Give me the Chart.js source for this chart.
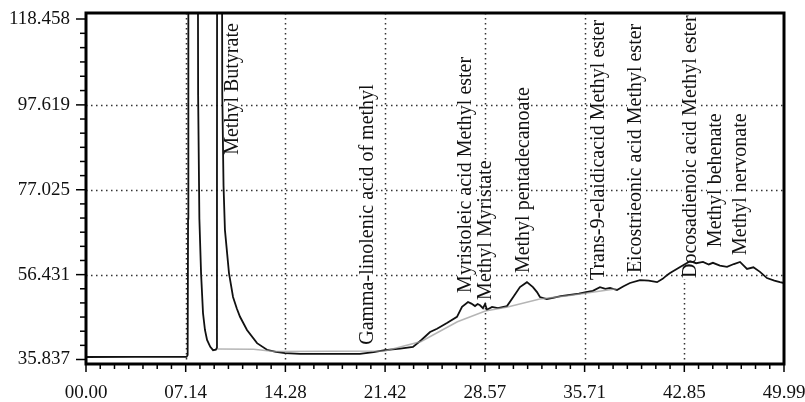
<!DOCTYPE html>
<html lang="en">
<head>
<meta charset="UTF-8">
<title>Chromatogram</title>
<script src="https://cdn.jsdelivr.net/npm/chart.js"></script>
<style>
    html, body { margin: 0; padding: 0; background: #fff; }
    .chart-container { position: relative; width: 805px; height: 402px; }
</style>
</head>
<body>
<div class="chart-container"><canvas id="chart"></canvas></div>
<script>
// retention time (min) and detector signal
const timeValues = [0.00, 3.50, 7.20, 7.28, 7.31, 7.33, 7.98, 8.03, 8.12, 8.24, 8.38, 8.52, 8.67, 8.90, 9.10, 9.30, 9.36, 9.38, 9.40, 9.70, 9.76, 9.85, 9.95, 10.24, 10.53, 10.80, 11.03, 11.53, 12.25, 12.96, 13.60, 14.25, 15.33, 17.50, 19.62, 20.60, 21.41, 22.50, 23.42, 24.00, 24.64, 25.14, 25.85, 26.57, 26.93, 27.36, 27.60, 27.86, 28.05, 28.22, 28.43, 28.58, 28.72, 29.08, 29.50, 30.15, 30.60, 31.08, 31.58, 32.01, 32.30, 32.51, 33.00, 33.45, 34.00, 34.66, 35.30, 35.81, 36.30, 36.81, 37.20, 37.53, 38.03, 38.50, 38.96, 39.68, 40.30, 40.90, 41.30, 41.61, 41.83, 42.55, 43.26, 43.70, 44.19, 44.60, 44.90, 45.40, 45.91, 46.40, 46.84, 47.34, 47.80, 48.27, 48.77, 49.30, 49.70, 49.99];
const signalValues = [36.44, 36.45, 36.45, 36.9, 70, 200, 200, 100, 70, 56.8, 47.1, 43.0, 40.6, 38.9, 38.1, 38.2, 38.6, 80, 200, 200, 100, 78, 67.3, 56.8, 51.0, 48.2, 46.2, 43.0, 39.8, 38.2, 37.7, 37.4, 37.2, 37.2, 37.2, 37.6, 38.1, 38.5, 38.9, 40.5, 42.5, 43.3, 44.7, 46.2, 48.6, 49.8, 49.4, 48.8, 49.3, 49.0, 48.3, 49.3, 47.9, 48.6, 48.3, 48.8, 51.0, 53.4, 54.6, 53.4, 52.2, 51.0, 50.5, 50.8, 51.2, 51.5, 51.8, 52.2, 52.5, 53.4, 53.0, 53.2, 52.7, 53.6, 54.4, 55.1, 55.0, 54.6, 55.4, 56.3, 56.8, 58.3, 59.7, 59.2, 59.5, 58.9, 59.3, 58.6, 58.3, 59.0, 59.5, 57.8, 58.2, 57.1, 55.6, 55.0, 54.6, 54.4];

// integration baseline (faint grey)
const baselineTime = [9.38, 12.0, 13.5, 21.4, 24.0, 26.6, 28.6, 30.2, 32.5, 34.5, 38.0];
const baselineSignal = [38.4, 38.3, 37.8, 37.9, 40.2, 45.0, 47.6, 48.6, 50.5, 51.3, 53.0];

const xTickValues = [0, 7.14, 14.28, 21.42, 28.57, 35.71, 42.85, 49.99];
const xTickLabels = ['00.00', '07.14', '14.28', '21.42', '28.57', '35.71', '42.85', '49.99'];
const yTickValues = [35.837, 56.431, 77.025, 97.619, 118.458];
const yTickLabels = ['35.837', '56.431', '77.025', '97.619', '118.458'];

// peak names, retention time and the signal level where the name starts
const peakNames = ['Methyl Butyrate', 'Gamma-linolenic acid of methyl', 'Myristoleic acid Methyl ester', 'Methyl Myristate', 'Methyl pentadecanoate', 'Trans-9-elaidicacid Methyl ester', 'Eicostrieonic acid Methyl ester', 'Docosadienoic acid Methyl ester', 'Methyl behenate', 'Methyl nervonate'];
const peakTimes = [10.46, 20.12, 27.14, 28.58, 31.30, 36.67, 39.32, 43.26, 45.05, 46.84];
const peakLabelBase = [85.5, 39.4, 52.0, 50.3, 56.8, 55.1, 56.8, 55.6, 63.1, 61.2];

const toPoints = (xs, ys) => xs.map((t, i) => ({ x: t, y: ys[i] }));

const frame = {
    id: 'frame',
    beforeDatasetsDraw(chart) {
        const { ctx, chartArea: a, scales: { x, y } } = chart;
        ctx.save();
        // dotted grid
        ctx.strokeStyle = '#333';
        ctx.lineWidth = 1.5;
        ctx.setLineDash([1.5, 3.5]);
        xTickValues.slice(1, -1).forEach(v => {
            const px = Math.round(x.getPixelForValue(v)) + 0.5;
            ctx.beginPath(); ctx.moveTo(px, a.top); ctx.lineTo(px, a.bottom); ctx.stroke();
        });
        yTickValues.slice(1, -1).forEach(v => {
            const py = Math.round(y.getPixelForValue(v)) + 0.5;
            ctx.beginPath(); ctx.moveTo(a.left, py); ctx.lineTo(a.right, py); ctx.stroke();
        });
        ctx.setLineDash([]);

        // peak names, vertical
        ctx.font = '20px "Liberation Serif"';
        ctx.textBaseline = 'middle';
        ctx.textAlign = 'left';
        peakNames.forEach((name, i) => {
            const px = x.getPixelForValue(peakTimes[i]);
            const py = y.getPixelForValue(peakLabelBase[i]);
            const w = ctx.measureText(name).width;
            ctx.save();
            ctx.translate(px, py);
            ctx.rotate(-Math.PI / 2);
            ctx.fillStyle = '#fff';
            ctx.fillRect(-1, -8, w + 2, 16);
            ctx.fillStyle = '#111';
            ctx.fillText(name, 0, 1);
            ctx.restore();
        });
        ctx.restore();
    },
    afterDatasetsDraw(chart) {
        const { ctx, chartArea: a, scales: { x, y } } = chart;
        ctx.save();
        ctx.strokeStyle = '#000';
        ctx.lineWidth = 1.5;
        // y ticks, 6 minor steps between labels
        for (let i = 0; i < yTickValues.length; i++) {
            const py = y.getPixelForValue(yTickValues[i]);
            ctx.beginPath(); ctx.moveTo(a.left - 10, py); ctx.lineTo(a.left, py); ctx.stroke();
            if (i < yTickValues.length - 1) {
                const step = (yTickValues[i + 1] - yTickValues[i]) / 6;
                for (let k = 1; k < 6; k++) {
                    const my = y.getPixelForValue(yTickValues[i] + k * step);
                    ctx.beginPath(); ctx.moveTo(a.left - 6, my); ctx.lineTo(a.left, my); ctx.stroke();
                }
            }
        }
        // x ticks, 7 minor steps between labels
        for (let i = 0; i < xTickValues.length; i++) {
            const px = x.getPixelForValue(xTickValues[i]);
            ctx.beginPath(); ctx.moveTo(px, a.bottom); ctx.lineTo(px, a.bottom + 8); ctx.stroke();
            if (i < xTickValues.length - 1) {
                const step = (xTickValues[i + 1] - xTickValues[i]) / 7;
                for (let k = 1; k < 7; k++) {
                    const mx = x.getPixelForValue(xTickValues[i] + k * step);
                    ctx.beginPath(); ctx.moveTo(mx, a.bottom); ctx.lineTo(mx, a.bottom + 5); ctx.stroke();
                }
            }
        }
        // plot frame
        ctx.lineWidth = 3;
        ctx.strokeRect(a.left, a.top, a.right - a.left, a.bottom - a.top);
        ctx.restore();
    }
};

new Chart(document.getElementById('chart'), {
    type: 'line',
    data: {
        datasets: [
            {
                label: 'Baseline',
                data: toPoints(baselineTime, baselineSignal),
                borderColor: 'rgba(150,150,150,0.7)',
                borderWidth: 1.5,
                pointRadius: 0
            },
            {
                label: 'Signal',
                data: toPoints(timeValues, signalValues),
                borderColor: '#111',
                borderWidth: 1.8,
                pointRadius: 0,
                tension: 0
            }
        ]
    },
    options: {
        responsive: true,
        maintainAspectRatio: false,
        animation: false,
        layout: { padding: { top: 13, right: 21, left: 0, bottom: 0 } },
        plugins: { legend: { display: false }, tooltip: { enabled: false } },
        scales: {
            x: {
                type: 'linear',
                min: 0,
                max: 49.99,
                grid: { display: false, drawTicks: false },
                border: { display: false },
                afterBuildTicks: s => { s.ticks = xTickValues.map(v => ({ value: v })); },
                afterFit: s => { s.height = 38; s.paddingLeft = 0; s.paddingRight = 0; },
                ticks: {
                    autoSkip: false,
                    maxRotation: 0,
                    padding: 18,
                    color: '#111',
                    font: { family: 'Liberation Serif', size: 19 },
                    callback: (v, i) => xTickLabels[i]
                }
            },
            y: {
                min: 34.745,
                max: 119.914,
                grid: { display: false, drawTicks: false },
                border: { display: false },
                afterBuildTicks: s => { s.ticks = yTickValues.map(v => ({ value: v })); },
                afterFit: s => { s.width = 86; s.paddingTop = 0; s.paddingBottom = 0; },
                ticks: {
                    padding: 16,
                    color: '#111',
                    font: { family: 'Liberation Serif', size: 19 },
                    callback: (v, i) => yTickLabels[i]
                }
            }
        }
    },
    plugins: [frame]
});
</script>
</body>
</html>
